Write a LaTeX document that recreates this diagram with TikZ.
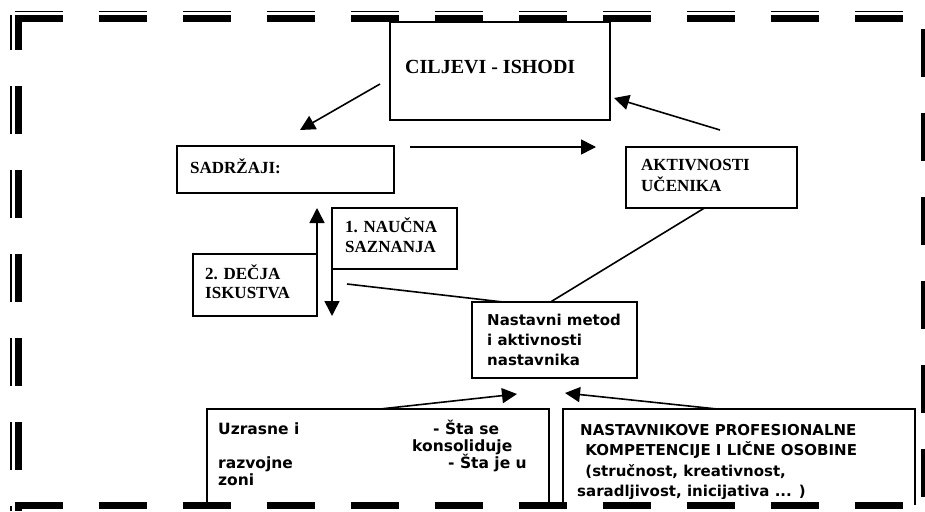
\documentclass[tikz,border=0pt]{standalone}
\usepackage{fontspec}
\setmainfont{Liberation Serif}
\newfontfamily\vsans{DejaVu Sans}
\usetikzlibrary{arrows.meta,calc}
\begin{document}
\begin{tikzpicture}[x=1pt,y=-1pt,
  box/.style={draw,line width=1.8pt,inner sep=0pt,outer sep=0pt,anchor=north west},
  ser/.style={font=\fontsize{17}{20}\selectfont\bfseries,anchor=base west,inner sep=0pt},
  san/.style={font=\vsans\fontsize{15}{20}\selectfont\bfseries,anchor=base west,inner sep=0pt},
  sanb/.style={font=\vsans\fontsize{15.5}{20}\selectfont\bfseries,anchor=base west,inner sep=0pt},
  arr/.style={line width=1.6pt,-{Triangle[length=15pt,width=15pt]}},
  ln/.style={line width=1.6pt},
  brd/.style={dash pattern=on 48pt off 36pt}]
\useasboundingbox (0,0) rectangle (925,511);
\fill[white] (0,0) rectangle (925,511);

% boxes
\node[box,minimum width=220pt,minimum height=98pt] (cil) at (390,22) {};
\node[box,minimum width=217pt,minimum height=47pt] (sad) at (177,146) {};
\node[box,minimum width=171pt,minimum height=61pt] (akt) at (626,147) {};
\node[box,minimum width=125pt,minimum height=61pt] (nau) at (332,208) {};
\node[box,minimum width=124pt,minimum height=62pt] (dec) at (193,254) {};
\node[box,minimum width=165pt,minimum height=76pt] (nas) at (472,302) {};
\draw[line width=1.8pt] (207,505) -- (207,409) coordinate (uzl) -- (549,409) coordinate (uzr) -- (549,505);
\draw[line width=1.8pt] (563,505) -- (563,409) coordinate (ntl) -- (915,409) coordinate (ntr) -- (915,505);

% texts
\node[ser,font=\fontsize{20}{22}\selectfont\bfseries] (tcil) at (405,73) {CILJEVI - ISHODI};
\node[ser] (tsad) at (190,173) {SADRŽAJI:};
\node[ser] (takt1) at (641,170) {AKTIVNOSTI};
\node[ser] (takt2) at (641,191) {UČENIKA};
\node[ser] (tnau1) at (345,232) {1. NAUČNA};
\node[ser] (tnau2) at (345,252) {SAZNANJA};
\node[ser] (tdec1) at (205,279) {2. DEČJA};
\node[ser] (tdec2) at (205,298) {ISKUSTVA};
\node[san] (tnas1) at (487,325) {Nastavni metod};
\node[san] (tnas2) at (487,345) {i aktivnosti};
\node[san] (tnas3) at (487,365) {nastavnika};

\begin{scope}
\clip (200,400) rectangle (555,486);
\node[sanb] (tuz1) at (218,434) {Uzrasne i};
\node[sanb] (tuz2) at (433,434) {- Šta se};
\node[sanb] (tuz3) at (412,451) {konsoliduje};
\node[sanb] (tuz4) at (218,468) {razvojne};
\node[sanb] (tuz5) at (448,468) {- Šta je u};
\node[sanb] (tuz6) at (218,485) {zoni};
\end{scope}
\begin{scope}
\clip (560,400) rectangle (920,498);
\node[san] (tnt1) at (580,435) {NASTAVNIKOVE PROFESIONALNE};
\node[san] (tnt2) at (580,455) {\ KOMPETENCIJE I LIČNE OSOBINE};
\node[san] (tnt3) at (580,476) {\ (stručnost, kreativnost,};
\node[san] (tnt4) at (577,496.5) {saradljivost, inicijativa ... )};
\end{scope}

% connectors
\coordinate (c1s) at (380,84);
\coordinate (c1e) at (300,130);
\draw[arr] (c1s) -- (c1e);
\coordinate (c2s) at (720,130);
\coordinate (c2e) at (614,98);
\draw[arr] (c2s) -- (c2e);
\coordinate (c3s) at (410,147);
\coordinate (c3e) at (596,147);
\draw[arr] (c3s) -- (c3e);
\draw[arr] (dec.north east) -- (dec.north east |- nau.north);
\draw[arr] (nau.north west) -- (nau.north west |- dec.south);
\coordinate (c4s) at (347,284);
\draw[ln] (c4s) -- ($(nas.north west)+(31,0)$);
\draw[ln] ($(akt.south)+(-7,0)$) -- ($(nas.north)+(-4,0)$);
\coordinate (c5e) at (517,394);
\draw[arr] ($(uzl)!0.506!(uzr)$) -- (c5e);
\coordinate (c6e) at (565,393);
\draw[arr] ($(ntl)!0.438!(ntr)$) -- (c6e);

% dashed frame
\draw[brd,line width=1.3pt] (15,11.5) -- (925,11.5);
\draw[brd,line width=7pt] (15,18.5) -- (925,18.5);
\draw[brd,dash phase=13pt,line width=1.3pt] (11,15) -- (11,511);
\draw[brd,dash phase=13pt,line width=7pt] (18.5,15) -- (18.5,511);
\draw[brd,line width=7pt] (15,505.5) -- (925,505.5);
\draw[brd,line width=5pt] (923,29) -- (923,511);
\end{tikzpicture}
\end{document}
